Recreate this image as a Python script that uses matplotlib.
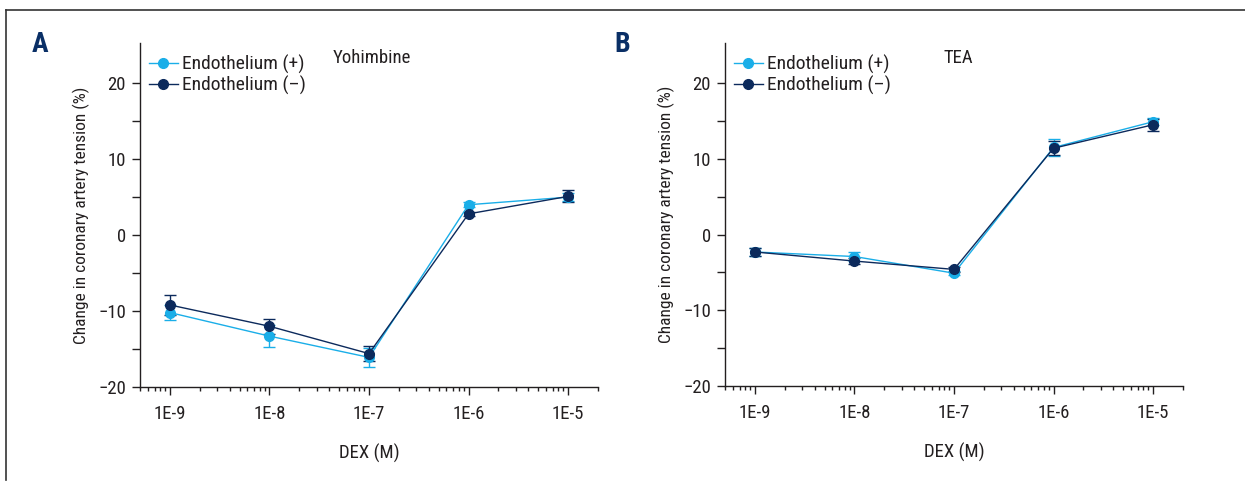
import numpy as np
import matplotlib
matplotlib.use('Agg')
import matplotlib.pyplot as plt
from matplotlib import font_manager
from matplotlib.lines import Line2D
from matplotlib.ticker import LogLocator, FixedLocator, NullFormatter

# pick the narrowest installed family
names = {f.name for f in font_manager.fontManager.ttflist}
family = 'DejaVu Sans'
for cand in ['Roboto Condensed', 'Liberation Sans Narrow', 'Open Sans Condensed', 'Roboto']:
    if cand in names:
        family = cand
        break
plt.rcParams['font.family'] = [family, 'DejaVu Sans']

# data
dex = [1e-9, 1e-8, 1e-7, 1e-6, 1e-5]
dex_labels = ['1E-9', '1E-8', '1E-7', '1E-6', '1E-5']

yoh_plus = [-10.2, -13.3, -16.1, 4.0, 5.0]
yoh_plus_err = [1.0, 1.4, 1.3, 0.3, 0.5]
yoh_minus = [-9.2, -12.0, -15.6, 2.8, 5.1]
yoh_minus_err = [1.3, 1.0, 1.0, 0.3, 0.8]

tea_plus = [-2.3, -2.9, -5.1, 11.5, 14.9]
tea_plus_err = [0.5, 0.6, 0.3, 1.1, 0.45]
tea_minus = [-2.3, -3.5, -4.6, 11.4, 14.5]
tea_minus_err = [0.55, 0.45, 0.3, 0.9, 0.8]

LIGHT = '#1aaee8'
DARK = '#0c2a5c'
TXT = '#231f20'

fig = plt.figure(figsize=(12.45, 4.83), dpi=100)

# outer frame (top and left edge only)
fig.add_artist(Line2D([6 / 1245, 1], [1 - 10 / 483, 1 - 10 / 483], color='#333333', lw=1.2))
fig.add_artist(Line2D([6 / 1245, 6 / 1245], [1 - 10 / 483, 1 - 480 / 483], color='#333333', lw=1.2))


def draw_panel(ax, plus, plus_err, minus, minus_err, title, title_x, letter, letter_x):
    ax.errorbar(dex, plus, yerr=plus_err, color=LIGHT, marker='o', ms=7, lw=1.0,
                capsize=4, capthick=1.0, elinewidth=1.0)
    ax.errorbar(dex, minus, yerr=minus_err, color=DARK, marker='o', ms=7, lw=1.0,
                capsize=4, capthick=1.0, elinewidth=1.0)
    ax.set_xscale('log')
    ax.set_xlim(5e-10, 2e-5)
    ax.set_ylim(-20, 25.3)
    ax.set_xticks(dex)
    ax.set_xticklabels(dex_labels)
    ax.xaxis.set_minor_locator(LogLocator(base=10, subs=np.arange(2, 10)))
    ax.xaxis.set_minor_formatter(NullFormatter())
    ax.set_yticks([-20, -10, 0, 10, 20])
    ax.set_yticklabels(['\u221220', '\u221210', '0', '10', '20'])
    ax.yaxis.set_minor_locator(FixedLocator([-15, -5, 5, 15]))
    for s in ['top', 'right']:
        ax.spines[s].set_visible(False)
    for s in ['left', 'bottom']:
        ax.spines[s].set_color(TXT)
        ax.spines[s].set_linewidth(1.0)
    ax.tick_params(axis='both', which='major', length=6, width=1.0, color=TXT,
                   labelsize=13.5, labelcolor=TXT, pad=4)
    ax.tick_params(axis='x', which='major', pad=7)
    ax.tick_params(axis='y', which='minor', length=6, width=1.0, color=TXT)
    ax.tick_params(axis='x', which='minor', length=3, width=1.0, color=TXT)
    ax.set_xlabel('DEX (M)', fontsize=13.5, color=TXT, labelpad=15)
    ax.set_ylabel('Change in coronary artery tension (%)', fontsize=12.5, color=TXT, labelpad=6)
    ax.text(title_x, 0.955, title, transform=ax.transAxes, fontsize=13.5, color=TXT,
            ha='left', va='center')
    fig.text(letter_x, 1 - 45 / 483, letter, fontsize=20, fontweight='bold', color='#0a2f66',
             ha='left', va='center')
    handles = [Line2D([], [], color=LIGHT, marker='o', ms=7, lw=1.0),
               Line2D([], [], color=DARK, marker='o', ms=7, lw=1.0)]
    leg = ax.legend(handles, ['Endothelium (+)', 'Endothelium (\u2013)'],
                    loc='upper left', bbox_to_anchor=(-0.005, 1.0), frameon=False,
                    fontsize=14, handlelength=1.45, handletextpad=0.25,
                    labelspacing=0.1, borderaxespad=0.2)
    for t in leg.get_texts():
        t.set_color(TXT)


axA = fig.add_axes([140 / 1245, 96 / 483, 458 / 1245, 344 / 483])
axB = fig.add_axes([725 / 1245, 97 / 483, 458 / 1245, 343 / 483])

draw_panel(axA, yoh_plus, yoh_plus_err, yoh_minus, yoh_minus_err, 'Yohimbine', 0.42, 'A', 32 / 1245)
draw_panel(axB, tea_plus, tea_plus_err, tea_minus, tea_minus_err, 'TEA', 0.476, 'B', 614 / 1245)

fig.savefig('out.png', dpi=100)
